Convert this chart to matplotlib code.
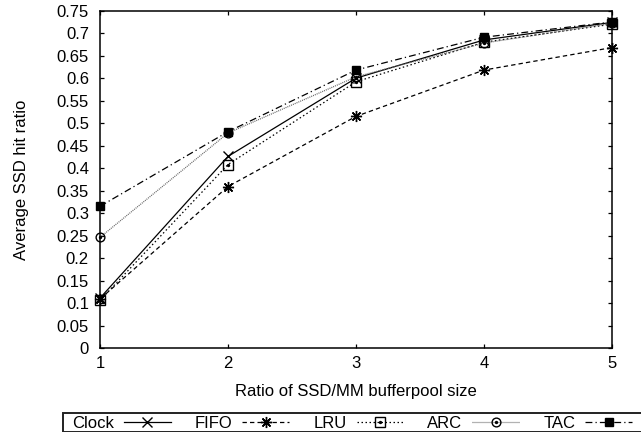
import matplotlib
matplotlib.use("Agg")
import matplotlib.pyplot as plt
from matplotlib.patches import Rectangle
from matplotlib.ticker import FuncFormatter, MultipleLocator
from matplotlib.legend_handler import HandlerTuple

plt.rcParams['font.family'] = ['Liberation Sans', 'DejaVu Sans']

# ---- data ----
ratios = [1, 2, 3, 4, 5]
clock = [0.111, 0.426, 0.600, 0.685, 0.724]
fifo = [0.109, 0.359, 0.515, 0.618, 0.668]
lru = [0.106, 0.408, 0.592, 0.680, 0.720]
arc = [0.246, 0.478, 0.603, 0.678, 0.722]
tac = [0.315, 0.481, 0.618, 0.691, 0.725]
series_names = ["Clock", "FIFO", "LRU", "ARC", "TAC"]
x_label = "Ratio of SSD/MM bufferpool size"
y_label = "Average SSD hit ratio"

W, H = 641, 432
fig = plt.figure(figsize=(W / 100, H / 100), dpi=100)
ax = fig.add_axes([100 / W, 1 - 348 / H, 512 / W, (348 - 10.7) / H])

lw = 0.9
common = dict(clip_on=False, zorder=3)
l_clock, = ax.plot(ratios, clock, color='black', lw=lw, ls='-', marker='x',
                   ms=7, mew=1.0, **common)
l_fifo, = ax.plot(ratios, fifo, color='black', lw=lw, ls=(0, (3.5, 2.5)),
                  marker=(8, 2, 0), ms=8, mew=1.0, **common)
l_lru, = ax.plot(ratios, lru, color='black', lw=lw, ls=(0, (1.2, 2.0)),
                 marker='s', ms=6.5, mfc='none', mew=1.0, **common)
d_lru, = ax.plot(ratios, lru, ls='none', marker='o', ms=1.4, color='black',
                 **common)
l_arc, = ax.plot(ratios, arc, color='#666666', lw=lw, ls=(0, (0.8, 0.8)),
                 marker='o', ms=6.3, mfc='none', mec='black', mew=1.0, **common)
d_arc, = ax.plot(ratios, arc, ls='none', marker='o', ms=1.4, color='black',
                 **common)
l_tac, = ax.plot(ratios, tac, color='black', lw=lw, ls=(0, (5.5, 2.5, 1.0, 2.5)),
                 marker='s', ms=6.3, mfc='black', mew=1.0, **common)

ax.set_xlim(1, 5)
ax.set_ylim(0, 0.75)
ax.xaxis.set_major_locator(MultipleLocator(1))
ax.yaxis.set_major_locator(MultipleLocator(0.05))
ax.yaxis.set_major_formatter(FuncFormatter(lambda v, p: "%g" % round(v, 2)))
ax.xaxis.set_major_formatter(FuncFormatter(lambda v, p: "%g" % v))
ax.tick_params(axis='both', which='major', direction='in', length=3.2,
               width=0.9, top=True, right=True, labelsize=12, color='black')
ax.tick_params(axis='y', pad=8)
ax.tick_params(axis='x', pad=6)
for s in ax.spines.values():
    s.set_linewidth(1.1)
    s.set_color('black')

ax.set_xlabel(x_label, fontsize=12)
ax.set_ylabel(y_label, fontsize=12)
ax.xaxis.set_label_coords(0.5, (348 - 384) / 337.3)
ax.yaxis.set_label_coords((29 - 100) / 512, 0.5)

# legend box (extends past figure edge like reference)
frame = Rectangle((63 / W, 0.5 / H), 1.0, (432 - 413 - 0.5) / H,
                  transform=fig.transFigure, fill=False, lw=1.4,
                  edgecolor='#222222', clip_on=False)
fig.add_artist(frame)

handles = [l_clock, l_fifo, (l_lru, d_lru), (l_arc, d_arc), l_tac]
leg = fig.legend(handles, series_names, loc='upper left',
                 bbox_to_anchor=(72 / W, 1 - 415.5 / H),
                 bbox_transform=fig.transFigure, ncol=5, frameon=False,
                 fontsize=12, markerfirst=False, handlelength=2.8,
                 handletextpad=0.6, columnspacing=1.45, borderpad=0,
                 borderaxespad=0, numpoints=1,
                 handler_map={tuple: HandlerTuple(ndivide=1, pad=0)})

fig.savefig("out.png", dpi=100)
